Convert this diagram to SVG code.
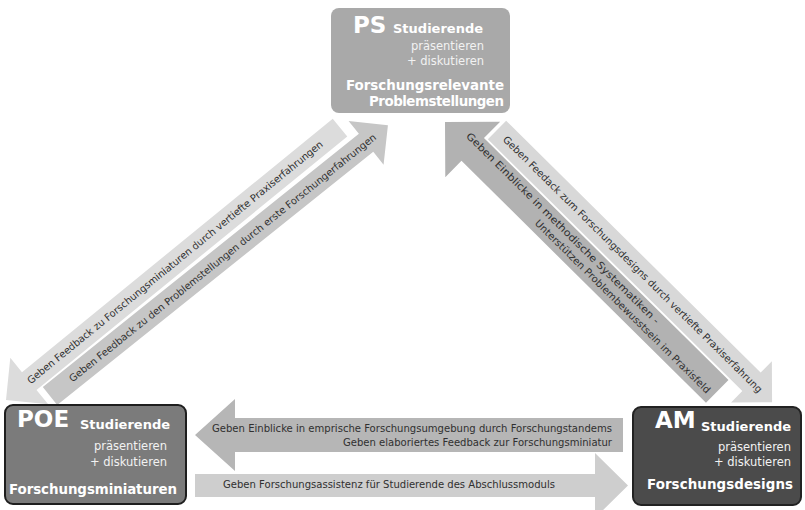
<svg xmlns="http://www.w3.org/2000/svg" width="805" height="510" viewBox="0 0 805 510">
<style>
  text{font-family:"DejaVu Sans","Liberation Sans",sans-serif}
  .nt{fill:#ffffff;font-weight:bold}
  .big{font-size:23px}
  .sub{font-size:13px}
  .ttl{font-size:13.4px}
  .small{fill:#f2f2f2;font-size:11.5px;text-anchor:end}
  .lbl{font-size:10px;fill:#303030}
</style>
<rect width="805" height="510" fill="#ffffff"/>
<g id="connectors">
  <g id="a-poe-feedback" transform="translate(6,400) rotate(-39.2)">
    <polygon points="0,0 30,-30 30,-11.5 431,-11.5 431,11.5 30,11.5 30,30" fill="#dcdcdc"/>
    <text class="lbl" x="29" y="3.5" textLength="378" lengthAdjust="spacingAndGlyphs">Geben Feedback zu Forschungsminiaturen durch vertiefte Praxiserfahrungen</text>
  </g>
  <g id="a-ps-feedback" transform="translate(50,396) rotate(-38.7)">
    <polygon points="0,-11.5 405,-11.5 405,-28 433,0 405,28 405,11.5 0,11.5" fill="#c6c6c6"/>
    <text class="lbl" x="26" y="3.5" textLength="390" lengthAdjust="spacingAndGlyphs">Geben Feedback zu den Problemstellungen durch erste Forschungerfahrungen</text>
  </g>
  <g id="a-am-feedback" transform="translate(497,130) rotate(44.7)">
    <polygon points="0,-13 358,-13 358,-29 387,0 358,29 358,13 0,13" fill="#d8d8d8"/>
    <text class="lbl" x="11" y="3.5" textLength="360" lengthAdjust="spacingAndGlyphs">Geben Feedack zum Forschungsdesigns durch vertiefte Praxiserfahrung</text>
  </g>
  <g id="a-ps-einblicke" transform="translate(445,122) rotate(44.7)">
    <polygon points="0,0 39,-39 39,-16 383,-16 383,16 39,16 39,39" fill="#b2b2b2"/>
    <text class="lbl" x="25" y="-4" textLength="267" lengthAdjust="spacingAndGlyphs">Geben Einblicke in methodische Systematiken -</text>
    <text class="lbl" x="135" y="9.5" textLength="242" lengthAdjust="spacingAndGlyphs">Unterstützen Problembewusstsein im Praxisfeld</text>
  </g>
  <g id="a-poe-einblicke">
    <polygon points="195,435 235,399 235,418 623,418 623,452 235,452 235,471" fill="#b6b6b6"/>
    <text class="lbl" x="212" y="432" textLength="400" lengthAdjust="spacingAndGlyphs">Geben Einblicke in emprische Forschungsumgebung durch Forschungstandems</text>
    <text class="lbl" x="343" y="446" textLength="269" lengthAdjust="spacingAndGlyphs">Geben elaboriertes Feedback zur Forschungsminiatur</text>
  </g>
  <g id="a-am-assistenz">
    <polygon points="195,474 595,474 595,453 628,485.5 595,518 595,497 195,497" fill="#cecece"/>
    <text class="lbl" x="223" y="488" textLength="332" lengthAdjust="spacingAndGlyphs">Geben Forschungsassistenz für Studierende des Abschlussmoduls</text>
  </g>
</g>
<g id="node-ps">
  <rect x="331" y="8" width="179" height="105" rx="8" fill="#a9a9a9"/>
  <text class="nt big" x="353" y="33">PS</text>
  <text class="nt sub" x="393" y="33">Studierende</text>
  <text class="small" x="484" y="50">präsentieren</text>
  <text class="small" x="484" y="65">+ diskutieren</text>
  <text class="nt ttl" x="346" y="90" textLength="158">Forschungsrelevante</text>
  <text class="nt ttl" x="369" y="106" textLength="135">Problemstellungen</text>
</g>
<g id="node-poe">
  <rect x="5" y="405" width="181" height="99" rx="8" fill="#7b7b7b" stroke="#1e1e1e" stroke-width="2"/>
  <text class="nt big" x="17" y="427">POE</text>
  <text class="nt sub" x="80" y="429">Studierende</text>
  <text class="small" x="167" y="450">präsentieren</text>
  <text class="small" x="167" y="466">+ diskutieren</text>
  <text class="nt ttl" x="9" y="494" textLength="168">Forschungsminiaturen</text>
</g>
<g id="node-am">
  <rect x="633" y="407" width="168" height="98" rx="8" fill="#4b4b4b" stroke="#222222" stroke-width="2"/>
  <text class="nt big" x="655" y="428">AM</text>
  <text class="nt sub" x="701" y="431">Studierende</text>
  <text class="small" x="791" y="451">präsentieren</text>
  <text class="small" x="791" y="466">+ diskutieren</text>
  <text class="nt ttl" x="647" y="489" textLength="146">Forschungsdesigns</text>
</g>
</svg>
